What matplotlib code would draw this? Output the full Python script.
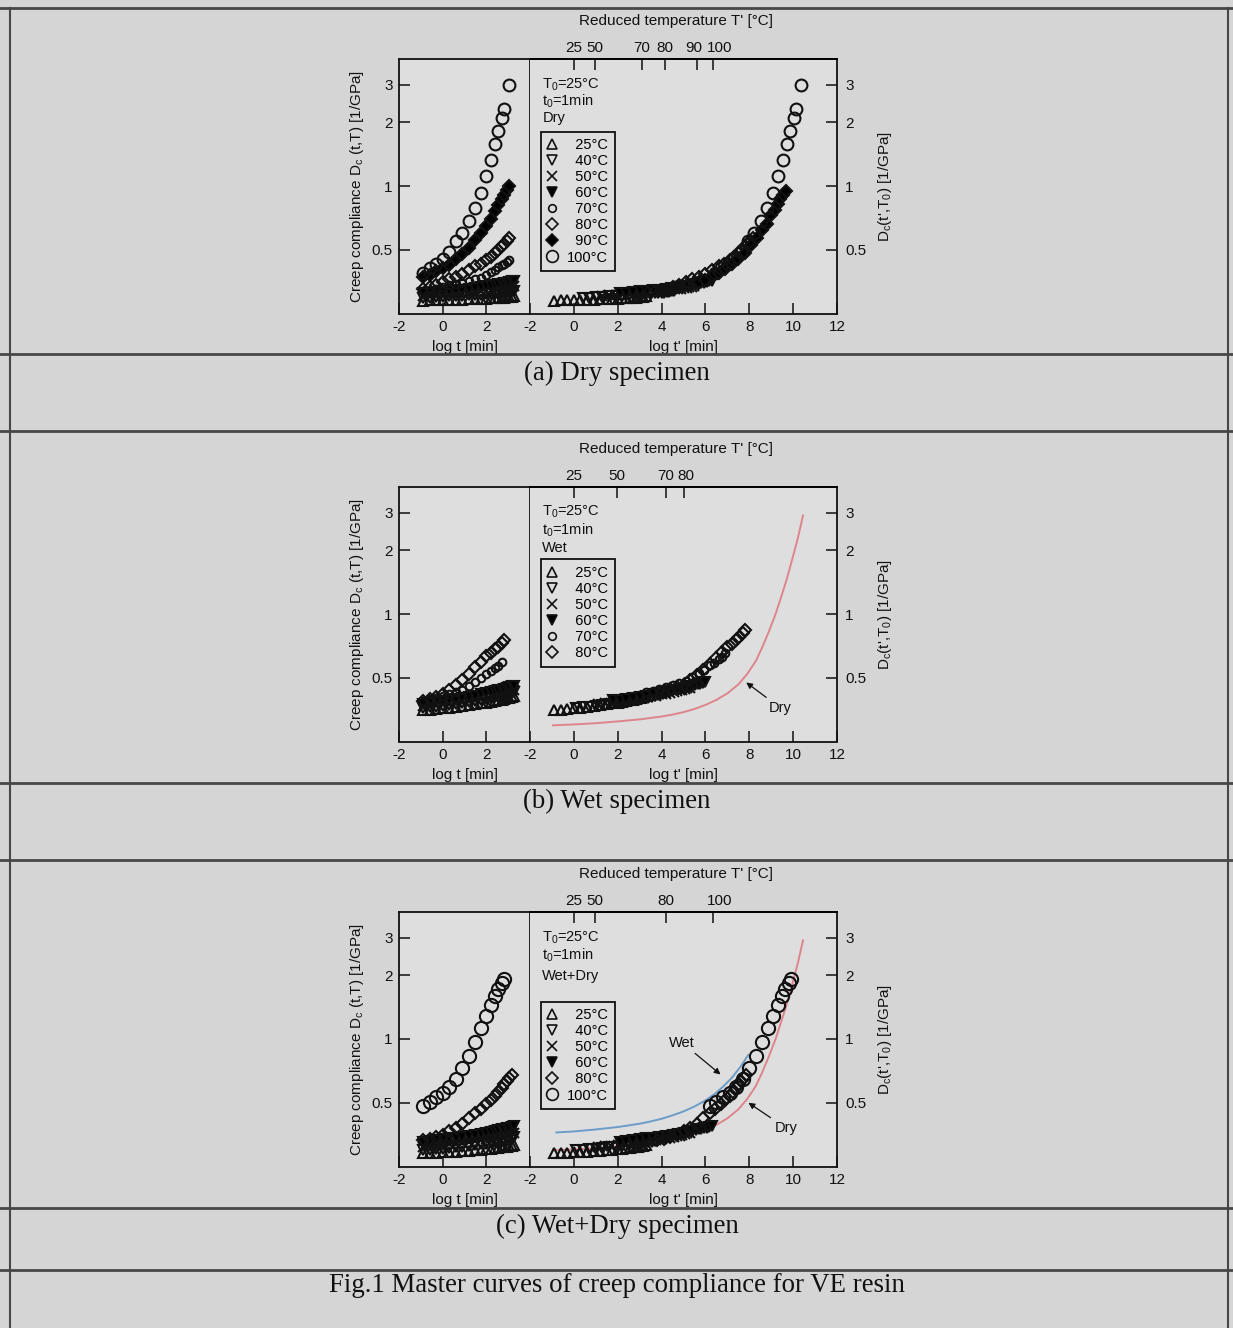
import matplotlib.pyplot as plt
import numpy as np
from matplotlib.lines import Line2D
from matplotlib.ticker import NullLocator
from matplotlib.transforms import ScaledTranslation

plt.rcParams['font.family'] = ['Liberation Sans', 'DejaVu Sans']
plt.rcParams['mathtext.default'] = 'regular'
plt.rcParams['axes.unicode_minus'] = False

W, H = 1233, 1328
nan = np.nan

# measuring times of the short-term creep tests, log10(t / min)
log_t = [-0.9, -0.6, -0.3, 0.0, 0.3, 0.6, 0.9, 1.2, 1.5, 1.75,
         2.0, 2.2, 2.4, 2.55, 2.7, 2.82, 2.94, 3.06, 3.17, 3.28]

# ------------------------------------------------------------
# (a) dry specimen, creep compliance [1/GPa]
# ------------------------------------------------------------
dry_temps = [25, 40, 50, 60, 70, 80, 90, 100]
dry_25 = [0.287, 0.288, 0.288, 0.289, 0.290, 0.290, 0.291, 0.292, 0.293, 0.293,
          0.294, 0.295, 0.295, 0.296, 0.297, 0.297, 0.298, 0.299, 0.300, 0.301]
dry_40 = [0.296, 0.297, 0.298, 0.300, 0.301, 0.302, 0.303, 0.305, 0.306, 0.307,
          0.309, 0.310, 0.311, 0.312, 0.313, 0.314, 0.315, 0.316, 0.318, 0.319]
dry_50 = [0.304, 0.305, 0.307, 0.308, 0.310, 0.311, 0.313, 0.315, 0.317, 0.319,
          0.321, 0.323, 0.325, 0.326, 0.328, 0.329, 0.331, 0.332, 0.334, 0.336]
dry_60 = [0.312, 0.314, 0.316, 0.318, 0.320, 0.322, 0.324, 0.327, 0.330, 0.333,
          0.336, 0.338, 0.341, 0.343, 0.346, 0.348, 0.350, 0.352, 0.355, 0.357]
dry_70 = [0.320, 0.324, 0.328, 0.334, 0.339, 0.344, 0.350, 0.356, 0.362, 0.368,
          0.381, 0.392, 0.403, 0.413, 0.422, 0.430, 0.437, 0.445, nan, nan]
dry_80 = [0.325, 0.333, 0.342, 0.352, 0.362, 0.372, 0.385, 0.400, 0.418, 0.430,
          0.445, 0.460, 0.482, 0.500, 0.520, 0.535, 0.550, 0.567, nan, nan]
dry_90 = [0.370, 0.380, 0.395, 0.410, 0.425, 0.450, 0.475, 0.510, 0.555, 0.600,
          0.650, 0.700, 0.765, 0.810, 0.865, 0.910, 0.955, 1.000, nan, nan]
dry_100 = [0.390, 0.410, 0.430, 0.450, 0.490, 0.550, 0.600, 0.680, 0.790, 0.930,
           1.120, 1.330, 1.580, 1.820, 2.100, 2.320, nan, 2.990, nan, nan]
dry_shift = [0.0, 1.3, 2.2, 3.0, 4.3, 5.1, 6.6, 7.32]   # log aT
dry_vfac = [1.0, 1.0, 1.0, 1.0, 1.0, 1.0, 0.95, 1.0]

# ------------------------------------------------------------
# (b) wet specimen
# ------------------------------------------------------------
wet_temps = [25, 40, 50, 60, 70, 80]
wet_25 = [0.352, 0.354, 0.356, 0.358, 0.361, 0.364, 0.367, 0.371, 0.375, 0.378,
          0.382, 0.385, 0.388, 0.391, 0.394, 0.397, 0.400, 0.403, 0.407, 0.411]
wet_40 = [0.360, 0.362, 0.365, 0.368, 0.371, 0.375, 0.379, 0.383, 0.388, 0.392,
          0.396, 0.400, 0.404, 0.407, 0.411, 0.414, 0.417, 0.420, 0.423, 0.426]
wet_50 = [0.368, 0.371, 0.374, 0.378, 0.382, 0.386, 0.390, 0.395, 0.400, 0.404,
          0.409, 0.413, 0.417, 0.421, 0.425, 0.428, 0.431, 0.434, 0.437, 0.440]
wet_60 = [0.376, 0.379, 0.383, 0.387, 0.391, 0.396, 0.401, 0.406, 0.412, 0.417,
          0.422, 0.427, 0.432, 0.436, 0.440, 0.444, 0.447, 0.451, 0.455, 0.458]
wet_70 = [0.388, 0.395, 0.402, 0.410, 0.418, 0.427, 0.437, 0.456, 0.478, 0.497,
          0.520, 0.536, 0.556, 0.570, 0.595, nan, nan, nan, nan, nan]
wet_80 = [0.390, 0.398, 0.407, 0.418, 0.440, 0.462, 0.490, 0.522, 0.560, 0.596,
          0.630, 0.653, 0.680, 0.700, 0.730, 0.755, nan, nan, nan, nan]
wet_shift = [0.0, 1.0, 2.0, 2.7, 4.2, 5.0]
wet_vfac = [1.0, 1.0, 1.02, 1.04, 1.10, 1.11]

# ------------------------------------------------------------
# (c) wet+dry specimen
# ------------------------------------------------------------
mix_temps = [25, 40, 50, 60, 80, 100]
mix_25 = [0.288, 0.289, 0.290, 0.292, 0.293, 0.294, 0.296, 0.297, 0.299, 0.300,
          0.302, 0.303, 0.305, 0.306, 0.308, 0.309, 0.310, 0.312, 0.313, 0.315]
mix_40 = [0.298, 0.300, 0.302, 0.304, 0.306, 0.308, 0.310, 0.313, 0.315, 0.318,
          0.321, 0.323, 0.326, 0.328, 0.331, 0.333, 0.336, 0.339, 0.341, 0.344]
mix_50 = [0.310, 0.312, 0.314, 0.316, 0.319, 0.321, 0.324, 0.327, 0.330, 0.333,
          0.336, 0.339, 0.342, 0.345, 0.348, 0.350, 0.353, 0.355, 0.358, 0.360]
mix_60 = [0.328, 0.330, 0.333, 0.336, 0.339, 0.342, 0.345, 0.349, 0.353, 0.357,
          0.361, 0.364, 0.368, 0.371, 0.374, 0.377, 0.379, 0.382, 0.384, 0.387]
mix_80 = [0.333, 0.338, 0.344, 0.352, 0.366, 0.380, 0.398, 0.423, 0.447, 0.466,
          0.492, 0.515, 0.540, 0.562, 0.590, 0.615, 0.635, 0.655, 0.675, nan]
mix_100 = [0.485, 0.505, 0.530, 0.557, 0.595, 0.650, 0.730, 0.830, 0.970, 1.130,
           1.290, 1.450, 1.600, 1.720, 1.840, 1.930, nan, nan, nan, nan]
mix_shift = [0.0, 1.0, 2.0, 3.0, 4.7, 7.1]
mix_vfac = [1.0, 1.0, 1.0, 1.0, 1.0, 1.0]

# master curves drawn as lines
dry_line_logt = [-0.95, 0.0, 1.0, 2.0, 3.0, 4.0, 4.5, 5.0, 5.5, 6.0, 6.5, 7.0,
                 7.5, 7.9, 8.3, 8.6, 8.9, 9.2, 9.45, 9.7, 9.95, 10.2, 10.45]
dry_line_D = [0.298, 0.301, 0.305, 0.311, 0.318, 0.328, 0.335, 0.344, 0.356,
              0.372, 0.393, 0.422, 0.465, 0.520, 0.600, 0.700, 0.830, 1.000,
              1.200, 1.450, 1.800, 2.250, 2.920]
wet_line_logt = [-0.8, 0.0, 1.0, 2.0, 3.0, 3.5, 4.0, 4.5, 5.0, 5.5, 6.0, 6.4,
                 6.8, 7.2, 7.6, 7.95]
wet_line_D = [0.362, 0.366, 0.374, 0.384, 0.398, 0.408, 0.420, 0.436, 0.455,
              0.480, 0.513, 0.548, 0.595, 0.655, 0.740, 0.840]

# reduced temperature scale on the top axis
dry_Tred_pos = [0.0, 0.97, 3.1, 4.15, 5.6, 6.35]
dry_Tred_lab = ['25', '50', '70', '80', '90', '100']
wet_Tred_pos = [0.0, 1.96, 4.22, 5.04]
wet_Tred_lab = ['25', '50', '70', '80']
mix_Tred_pos = [0.0, 0.97, 4.18, 6.34]
mix_Tred_lab = ['25', '50', '80', '100']

MARK = {
    25: dict(marker='^', mfc='none', ms=7.5),
    40: dict(marker='v', mfc='none', ms=7.5),
    50: dict(marker='x', ms=7),
    60: dict(marker='v', mfc='k', ms=7.5),
    70: dict(marker='o', mfc='none', ms=5.5),
    80: dict(marker='D', mfc='none', ms=6.2),
    90: dict(marker='D', mfc='k', ms=6.2),
    100: dict(marker='o', mfc='none', ms=8.5),
}

BG = '#d5d5d5'
AX_BG = '#dedede'
INK = '#111111'
FS = 11
LFS = 10.5

fig = plt.figure(figsize=(W / 100, H / 100), dpi=100, facecolor=BG)


def px_axes(x0, x1, y0, y1):
    ax = fig.add_axes([x0 / W, 1 - y1 / H, (x1 - x0) / W, (y1 - y0) / H])
    ax.set_facecolor(AX_BG)
    for sp in ax.spines.values():
        sp.set_linewidth(1.3)
        sp.set_color(INK)
    return ax


def style_axis(ax, xlim, xticks):
    ax.set_yscale('log')
    ax.set_ylim(0.25, 4.0)
    ax.set_xlim(*xlim)
    ax.set_xticks(xticks)
    ax.set_xticklabels([str(v) for v in xticks])
    ax.yaxis.set_minor_locator(NullLocator())
    ax.xaxis.set_minor_locator(NullLocator())
    ax.tick_params(direction='in', length=8, width=1.1, labelsize=FS,
                   pad=4.5, colors=INK)


def draw_panel(ytop, temps, series, shift, vfac, tred_pos, tred_lab,
               tag, legend_top, text_y, lines=(), notes=(), big=8.5,
               tred_dx=None):
    ybot = ytop + 255
    ax_l = px_axes(399, 530, ytop, ybot)
    ax_r = px_axes(530, 837, ytop, ybot)
    style_axis(ax_l, (-2, 4), [-2, 0, 2])
    style_axis(ax_r, (-2, 12), [-2, 0, 2, 4, 6, 8, 10, 12])

    ax_l.set_yticks([0.5, 1, 2, 3])
    ax_l.set_yticklabels(['0.5', '1', '2', '3'])
    ax_l.tick_params(axis='y', left=True, right=False)
    ax_l.yaxis.set_minor_locator(NullLocator())
    ax_r.yaxis.tick_right()
    ax_r.set_yticks([0.5, 1, 2, 3])
    ax_r.set_yticklabels(['0.5', '1', '2', '3'])
    ax_r.yaxis.set_minor_locator(NullLocator())
    ax_r.tick_params(axis='y', direction='in', length=8, pad=6, labelsize=FS)
    ax_r.spines['left'].set_visible(False)

    for (xs, ys, col) in lines:
        ax_r.plot(xs, ys, color=col, lw=1.4, zorder=1.5)

    handles = []
    t = np.asarray(log_t)
    for T, D, s, f in zip(temps, series, shift, vfac):
        D = np.asarray(D, float)
        st = dict(MARK[T])
        if T == 100:
            st['ms'] = big
        ax_l.plot(t, D, ls='none', color=INK, mew=1.5, zorder=3, **st)
        ax_r.plot(t + s, D * f, ls='none', color=INK, mew=1.5, zorder=3, **st)
        lab = f'{T}°C' if T >= 100 else f'  {T}°C'
        handles.append(Line2D([], [], ls='none', color=INK, mew=1.2,
                              label=lab, **MARK[T]))

    leg = ax_r.legend(handles=handles, loc='upper left',
                      bbox_to_anchor=(0.035, legend_top), fontsize=LFS,
                      frameon=True, fancybox=False, edgecolor=INK,
                      facecolor=AX_BG, framealpha=1.0, borderpad=0.45,
                      handlelength=0.6, handletextpad=0.75, labelspacing=0.14,
                      borderaxespad=0.0)
    leg.get_frame().set_linewidth(1.3)

    for y, txt in zip(text_y, ['$T_0$=25°C', '$t_0$=1min', tag]):
        ax_r.text(0.04, y, txt, transform=ax_r.transAxes, ha='left',
                  va='center', fontsize=LFS, color=INK)

    for txt, tip, pos in notes:
        ax_r.annotate(txt, xy=tip, xytext=pos, ha='center', va='center',
                      fontsize=LFS, color=INK,
                      arrowprops=dict(arrowstyle='-|>', color=INK, lw=0.9,
                                      mutation_scale=9, shrinkA=1, shrinkB=0))

    ax_t = ax_r.twiny()
    ax_t.set_xlim(-2, 12)
    ax_t.set_xticks(tred_pos)
    ax_t.set_xticklabels(tred_lab)
    ax_t.xaxis.set_minor_locator(NullLocator())
    ax_t.tick_params(axis='x', direction='in', length=8, width=1.1,
                     labelsize=FS, pad=2.5, colors=INK)
    for side in ('left', 'right', 'bottom'):
        ax_t.spines[side].set_visible(False)
    ax_t.spines['top'].set_linewidth(1.3)
    ax_t.set_xlabel("Reduced temperature T' [°C]", fontsize=FS, labelpad=11.5,
                    x=0.475, color=INK)
    # nudge crowded top labels sideways
    if tred_dx is not None:
        for tk, dx in zip(ax_t.xaxis.get_major_ticks(), tred_dx):
            off = ScaledTranslation(dx / 100, 0, fig.dpi_scale_trans)
            for lab in (tk.label1, tk.label2):
                lab.set_transform(lab.get_transform() + off)

    ax_l.set_xlabel('log t [min]', fontsize=FS, labelpad=4.5, color=INK)
    ax_r.set_xlabel("log t' [min]", fontsize=FS, labelpad=4.5, color=INK)
    ax_l.set_ylabel('Creep compliance $D_c$ (t,T) [1/GPa]', fontsize=FS,
                    labelpad=4, color=INK)
    ax_r.yaxis.set_label_position('right')
    ax_r.set_ylabel("$D_c$(t',$T_0$) [1/GPa]", fontsize=FS, labelpad=7,
                    color=INK)
    return ax_l, ax_r


draw_panel(58.5, dry_temps,
           [dry_25, dry_40, dry_50, dry_60, dry_70, dry_80, dry_90, dry_100],
           dry_shift, dry_vfac, dry_Tred_pos, dry_Tred_lab, 'Dry', 0.713,
           [0.897, 0.831, 0.766], tred_dx=[0, 0, 0, 0, -3, 7])

draw_panel(486.5, wet_temps,
           [wet_25, wet_40, wet_50, wet_60, wet_70, wet_80],
           wet_shift, wet_vfac, wet_Tred_pos, wet_Tred_lab, 'Wet', 0.714,
           [0.899, 0.829, 0.758],
           lines=[(dry_line_logt, dry_line_D, '#de848d')],
           notes=[('Dry', (7.86, 0.475), (9.42, 0.36))],
           tred_dx=[0, 0, -1, 1])

draw_panel(911.5, mix_temps,
           [mix_25, mix_40, mix_50, mix_60, mix_80, mix_100],
           mix_shift, mix_vfac, mix_Tred_pos, mix_Tred_lab, 'Wet+Dry', 0.646,
           [0.895, 0.829, 0.748],
           lines=[(dry_line_logt, dry_line_D, '#de848d'),
                  (wet_line_logt, wet_line_D, '#6c9cc8')],
           notes=[('Wet', (6.69, 0.68), (4.94, 0.96)),
                  ('Dry', (7.96, 0.50), (9.67, 0.38))],
           big=9.5, tred_dx=[0, 0, 0, 7])

# table rules of the page
for y in [8, 354, 431, 783, 860, 1208, 1270]:
    fig.add_artist(Line2D([0.0, 1.0], [1 - y / H, 1 - y / H],
                          color='#474747', lw=2.0))
for x in [9.5, 1228]:
    fig.add_artist(Line2D([x / W, x / W], [0.0, 1 - 8 / H],
                          color='#474747', lw=1.5))

# captions
captions = [(373, '(a) Dry specimen'), (801, '(b) Wet specimen'),
            (1226, '(c) Wet+Dry specimen'),
            (1286, 'Fig.1 Master curves of creep compliance for VE resin')]
for y, txt in captions:
    fig.text(617 / W, 1 - y / H, txt, ha='center', va='center',
             family='Liberation Serif', fontsize=19.3, color=INK)

fig.savefig('out.png', dpi=100, facecolor=BG)
